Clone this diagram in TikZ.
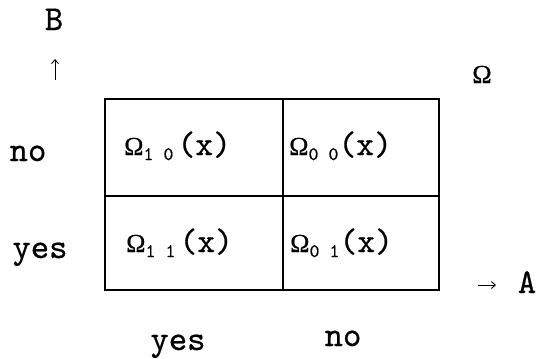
\documentclass[tikz,border=0pt]{standalone}
\usepackage{fontspec}
\newfontfamily\omfont{Liberation Serif}[FakeBold=0.5]
\newfontfamily\typew{lmmono10-regular}[Extension=.otf, FakeBold=0.6]
\usetikzlibrary{arrows.meta}
\newcommand{\cellsub}[1]{{\fontsize{19}{19}\selectfont\raisebox{-5pt}{#1}}}
\newcommand{\bigOm}{{\omfont\fontsize{26}{26}\selectfont Ω}}
\begin{document}
\begin{tikzpicture}[x=1pt,y=-1pt,
  lbl/.style={font=\typew\fontsize{35}{35}\selectfont, inner sep=0pt, anchor=base},
  cell/.style={font=\typew\fontsize{34}{34}\selectfont, inner sep=0pt, anchor=base west},
  frame/.style={line width=1.7pt},
  axarrow/.style={line width=0.9pt, -{Straight Barb[length=4pt,width=7pt]}}]
\useasboundingbox (0,0) rectangle (539,359);
% frame corners
\coordinate (tl) at (105,99);
\coordinate (tr) at (439,99);
\coordinate (bl) at (105,290);
\coordinate (br) at (439,290);
\coordinate (tm) at (283,99);
\coordinate (bm) at (283,290);
\coordinate (ml) at (105,196);
\coordinate (mr) at (439,196);
\draw[frame] (tl) rectangle (br);
\draw[frame] (tm) -- (bm);
\draw[frame] (ml) -- (mr);
% cell texts
\node[cell] (c10) at (124,155) {\bigOm\cellsub{1 0}\hspace{4pt}(x)};
\node[cell] (c00) at (289,155) {\bigOm\cellsub{0 0}(x)};
\node[cell] (c11) at (126,252) {\bigOm\cellsub{1 1}\hspace{4pt}(x)};
\node[cell] (c01) at (290,252) {\bigOm\cellsub{0 1}(x)};
% axis labels
\node[lbl] (B) at (54,30) {B};
\coordinate (upS) at (55,80);
\coordinate (upE) at (55,59);
\draw[axarrow] (upS) -- (upE);
\node[lbl] (Om) at (482,83) {\bigOm};
\node[lbl] (no1) at (28,161) {no};
\node[lbl] (yes1) at (40,258) {yes};
\coordinate (rtS) at (478,285);
\coordinate (rtE) at (496,285);
\draw[axarrow] (rtS) -- (rtE);
\node[lbl] (A) at (527,293) {A};
\node[lbl] (yes2) at (178,350) {yes};
\node[lbl] (no2) at (343,346) {no};
\end{tikzpicture}
\end{document}
